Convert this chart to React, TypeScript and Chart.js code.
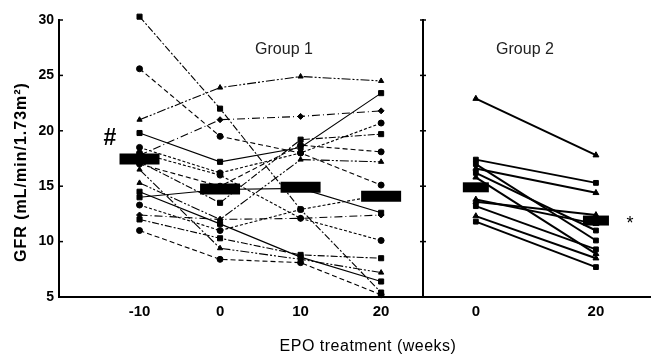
import React, { useEffect, useRef } from "react";
import { Chart, registerables } from "chart.js";
Chart.register(...registerables);

// ---- data ----
const g1Weeks = [-10, 0, 10, 20];
const g2Weeks = [0, 20];
const yTicks = [5, 10, 15, 20, 25, 30];
const g1XTicks = [-10, 0, 10, 20];
const g2XTicks = [0, 20];

const g1Subjects: number[][] = [
  [30.3, 22.0, 12.9, 5.4],
  [25.6, 19.5, 18.0, 15.1],
  [21.0, 23.9, 24.9, 24.5],
  [19.8, 17.2, 18.5, 23.4],
  [18.5, 16.2, 18.0, 20.7],
  [17.8, 21.0, 21.3, 21.8],
  [17.2, 13.5, 19.2, 19.7],
  [17.0, 15.0, 18.7, 18.1],
  [15.3, 12.0, 17.4, 17.2],
  [14.0, 14.7, 14.8, 12.6],
  [13.3, 11.0, 12.9, 14.2],
  [12.4, 12.0, 12.1, 12.4],
  [12.0, 10.3, 8.8, 8.5],
  [11.0, 8.4, 8.1, 5.2],
  [16.5, 9.4, 8.4, 7.2],
  [14.5, 11.6, 8.6, 6.4],
  [18.0, 16.0, 12.1, 10.1],
];
const g1Means = [17.45, 14.75, 14.9, 14.1];

const g2Subjects: number[][] = [
  [22.9, 17.8],
  [17.4, 15.3],
  [16.6, 14.4],
  [17.0, 10.1],
  [15.8, 8.9],
  [16.2, 11.0],
  [13.6, 12.4],
  [13.2, 9.3],
  [12.3, 8.5],
  [11.8, 7.7],
  [13.8, 11.6],
];
const g2Means = [14.9, 11.9];

const markerStyles = ["rect", "circle", "triangle", "rect", "circle", "rectRot"];
const dashStyles: number[][] = [
  [7, 2, 2, 2],
  [5, 3],
  [9, 2, 2, 2, 2, 2],
  [],
  [3, 2],
  [8, 3, 1, 3],
];

const FONT = "'Liberation Sans', Arial, sans-serif";
const RIGHT_OFFSET = 413; // css left of the right-panel canvas

function toPts(xs: number[], ys: number[]) {
  return xs.map((x, i) => ({ x, y: ys[i] }));
}

const leftText = {
  id: "leftText",
  afterDraw(chart: any) {
    const ctx = chart.ctx;
    const ca = chart.chartArea;
    const ys = chart.scales.y;
    ctx.save();
    ctx.fillStyle = "#000";
    ctx.strokeStyle = "#000";
    ctx.lineWidth = 1.5;
    yTicks.forEach((v) => {
      const py = ys.getPixelForValue(v);
      ctx.beginPath();
      ctx.moveTo(ca.left, py);
      ctx.lineTo(ca.left + 4, py);
      ctx.stroke();
    });
    ctx.save();
    ctx.translate(22, 172);
    ctx.rotate(-Math.PI / 2);
    ctx.font = `bold 16px ${FONT}`;
    (ctx as any).letterSpacing = "1px";
    ctx.textAlign = "center";
    ctx.textBaseline = "middle";
    ctx.fillText("GFR (mL/min/1.73m²)", 0, 0);
    ctx.restore();
    ctx.font = `16px ${FONT}`;
    (ctx as any).letterSpacing = "0.5px";
    ctx.textAlign = "center";
    ctx.textBaseline = "middle";
    ctx.fillText("EPO treatment (weeks)", 368, 347);
    (ctx as any).letterSpacing = "0px";
    ctx.fillStyle = "#222";
    ctx.font = `16px ${FONT}`;
    ctx.fillText("Group 1", 284, 50);
    ctx.fillStyle = "#000";
    ctx.font = `bold 23px ${FONT}`;
    ctx.fillText("#", 110, 139);
    ctx.restore();
  },
};

const rightText = {
  id: "rightText",
  afterDraw(chart: any) {
    const ctx = chart.ctx;
    const ca = chart.chartArea;
    const ys = chart.scales.y;
    ctx.save();
    ctx.strokeStyle = "#000";
    ctx.lineWidth = 1.5;
    yTicks.forEach((v) => {
      const py = ys.getPixelForValue(v);
      ctx.beginPath();
      ctx.moveTo(ca.left - 3, py);
      ctx.lineTo(ca.left + 3, py);
      ctx.stroke();
    });
    ctx.fillStyle = "#222";
    ctx.font = `16px ${FONT}`;
    ctx.textAlign = "center";
    ctx.textBaseline = "middle";
    ctx.fillText("Group 2", 525 - RIGHT_OFFSET, 50);
    ctx.fillStyle = "#000";
    ctx.font = `18px ${FONT}`;
    ctx.fillText("*", 630 - RIGHT_OFFSET, 224);
    ctx.restore();
  },
};

function baseScales(xMin: number, xMax: number, xTicks: number[], showYLabels: boolean) {
  return {
    x: {
      type: "linear" as const,
      min: xMin,
      max: xMax,
      bounds: "data" as const,
      afterBuildTicks: (s: any) => {
        s.ticks = xTicks.map((v) => ({ value: v }));
      },
      afterFit: (s: any) => {
        s.height = 59;
        s.paddingLeft = 0;
        s.paddingRight = 0;
      },
      grid: { display: true, drawOnChartArea: false, drawTicks: false },
      border: { display: true, color: "#000", width: 2 },
      ticks: {
        color: "#000",
        padding: 6,
        font: { family: FONT, size: 15, weight: "bold" as const },
        callback: (v: any) => String(v),
      },
    },
    y: {
      type: "linear" as const,
      min: 5,
      max: 30,
      afterBuildTicks: (s: any) => {
        s.ticks = yTicks.map((v) => ({ value: v }));
      },
      afterFit: (s: any) => {
        s.width = showYLabels ? 59 : 0;
        s.paddingTop = 0;
        s.paddingBottom = 0;
      },
      grid: { display: true, drawOnChartArea: false, drawTicks: false },
      border: { display: true, color: "#000", width: 2 },
      ticks: {
        display: showYLabels,
        color: "#000",
        padding: 5,
        font: { family: FONT, size: 14, weight: "bold" as const },
      },
    },
  };
}

export default function App() {
  const leftRef = useRef<HTMLCanvasElement>(null);
  const rightRef = useRef<HTMLCanvasElement>(null);

  useEffect(() => {
    const leftDatasets: any[] = [
      {
        data: toPts(g1Weeks, g1Means),
        showLine: false,
        pointStyle: "line",
        pointRadius: 20,
        pointBorderWidth: 11,
        pointBorderColor: "#000",
        pointBackgroundColor: "#000",
      },
      ...g1Subjects.map((s, i) => ({
        data: toPts(g1Weeks, s),
        showLine: true,
        clip: 8,
        borderColor: "#000",
        borderWidth: 1.1,
        borderDash: dashStyles[i % dashStyles.length],
        pointStyle: markerStyles[i % markerStyles.length],
        pointRadius: i % 3 === 0 ? 3.6 : 3,
        pointBackgroundColor: "#000",
        pointBorderColor: "#000",
        pointBorderWidth: 1,
      })),
    ];
    const rightDatasets: any[] = [
      {
        data: toPts(g2Weeks, g2Means),
        showLine: false,
        pointStyle: "line",
        pointRadius: 13,
        pointBorderWidth: 10,
        pointBorderColor: "#000",
        pointBackgroundColor: "#000",
      },
      ...g2Subjects.map((s, i) => ({
        data: toPts(g2Weeks, s),
        showLine: true,
        borderColor: "#000",
        borderWidth: 2,
        pointStyle: i % 2 === 0 ? "triangle" : "rect",
        pointRadius: 3.4,
        pointBackgroundColor: "#000",
        pointBorderColor: "#000",
        pointBorderWidth: 1,
      })),
    ];

    const common = {
      responsive: false,
      animation: false as const,
      plugins: { legend: { display: false }, tooltip: { enabled: false } },
      elements: { line: { tension: 0 } },
    };

    const left = new Chart(leftRef.current!, {
      type: "scatter",
      data: { datasets: leftDatasets },
      options: {
        ...common,
        layout: { autoPadding: false, padding: { left: 0, top: 20, right: 228, bottom: 0 } },
        scales: baseScales(-20, 25.2, g1XTicks, true),
      } as any,
      plugins: [leftText],
    });
    const right = new Chart(rightRef.current!, {
      type: "scatter",
      data: { datasets: rightDatasets },
      options: {
        ...common,
        layout: { autoPadding: false, padding: { left: 423 - RIGHT_OFFSET, top: 20, right: 1, bottom: 0 } },
        scales: baseScales(-8.8, 29, g2XTicks, false),
      } as any,
      plugins: [rightText],
    });
    return () => {
      left.destroy();
      right.destroy();
    };
  }, []);

  return (
    <div style={{ position: "fixed", left: 0, top: 0, width: 651, height: 356, background: "#fff" }}>
      <canvas
        ref={leftRef}
        width={651}
        height={356}
        style={{ position: "absolute", left: 0, top: 0, width: 651, height: 356 }}
      />
      <canvas
        ref={rightRef}
        width={651 - RIGHT_OFFSET}
        height={356}
        style={{ position: "absolute", left: RIGHT_OFFSET, top: 0, width: 651 - RIGHT_OFFSET, height: 356 }}
      />
    </div>
  );
}
